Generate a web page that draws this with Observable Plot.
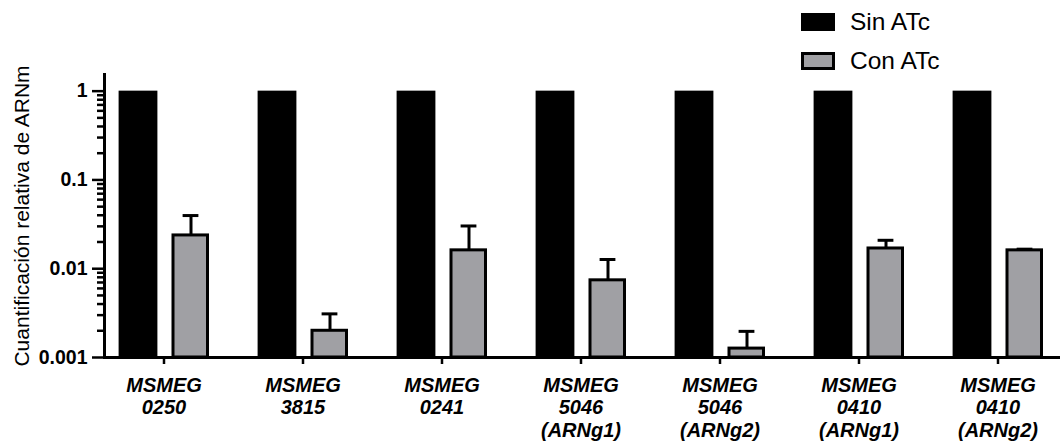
<!DOCTYPE html>
<html>
<head>
<meta charset="utf-8">
<script src="https://cdn.jsdelivr.net/npm/d3@7"></script>
<script src="https://cdn.jsdelivr.net/npm/@observablehq/plot@0.6"></script>
<style>
  html, body { margin: 0; padding: 0; background: white; }
  #wrap { position: relative; width: 1060px; height: 448px; font-family: "Liberation Sans", Arial, sans-serif; }
  .leg { position: absolute; left: 801px; display: flex; align-items: center; font-size: 24.5px; color: black; }
  .sw { width: 34px; height: 18px; box-sizing: border-box; margin-right: 15px; }
</style>
</head>
<body>
<div id="wrap">
  <div class="leg" style="top:8px"><div class="sw" style="background:#000"></div><span>Sin ATc</span></div>
  <div class="leg" style="top:47px"><div class="sw" style="background:#a0a0a4;border:3px solid #000;height:18px"></div><span>Con ATc</span></div>
</div>
<script>
const groups = ["0250", "3815", "0241", "5046g1", "5046g2", "0410g1", "0410g2"];
const tickLabels = ["MSMEG\n0250", "MSMEG\n3815", "MSMEG\n0241", "MSMEG\n5046\n(ARNg1)", "MSMEG\n5046\n(ARNg2)", "MSMEG\n0410\n(ARNg1)", "MSMEG\n0410\n(ARNg2)"];
const sinATc = [1, 1, 1, 1, 1, 1, 1];
const conATc = [0.0237, 0.0020, 0.0161, 0.0074, 0.00126, 0.0169, 0.0161];
const conUpper = [0.0397, 0.0031, 0.0303, 0.0127, 0.00197, 0.0209, 0.0166];
const yTicks = [0.001, 0.01, 0.1, 1];
const yTickLabels = ["0.001", "0.01", "0.1", "1"];
const seriesNames = ["Sin ATc", "Con ATc"];

const sinData = groups.map((g, i) => ({group: g, value: sinATc[i]}));
const conData = groups.map((g, i) => ({group: g, value: conATc[i], upper: conUpper[i]}));
const minorTicks = [];
for (const d of [0.001, 0.01, 0.1]) for (let k = 2; k <= 9; k++) minorTicks.push(+(d * k).toPrecision(3));
const minorData = minorTicks.map((v) => ({v}));

const base = 0.001;
const half = 69.6;
const W = 1060, ML = 104;

const chart = Plot.plot({
  width: W,
  height: 448,
  marginLeft: ML,
  marginRight: 0,
  marginTop: 74,
  marginBottom: 91,
  style: {fontFamily: "'Liberation Sans', Arial, sans-serif", color: "black", background: "white", overflow: "visible"},
  x: {type: "band", domain: groups, range: [163 - half, 998 + half], padding: 0},
  y: {type: "log", domain: [0.001, 1.54]},
  marks: [
    Plot.barY(sinData, {x: "group", y1: base, y2: "value", fill: "black", insetLeft: 24.6, insetRight: 75.6}),
    Plot.ruleX(conData, {x: "group", y1: "value", y2: "upper", dx: 27, stroke: "black", strokeWidth: 3}),
    Plot.tickY(conData, {x: "group", y: "upper", stroke: "black", strokeWidth: 3, insetLeft: 88.6, insetRight: 34.6}),
    Plot.barY(conData, {x: "group", y1: base, y2: "value", fill: "#a0a0a4", stroke: "black", strokeWidth: 3, insetLeft: 79, insetRight: 25.5}),
    Plot.tickY(minorData, {y: "v", stroke: "black", strokeWidth: 2.5, insetRight: W - ML - 7, dx: -7}),
    Plot.axisY({ticks: yTicks, tickSize: 12, tickPadding: 5, tickFormat: (d) => yTickLabels[yTicks.indexOf(d)],
      fontSize: 19.5, fontWeight: "bold", strokeWidth: 2.5, label: null}),
    Plot.axisY({ticks: [], tickSize: 0, label: "Cuantificación relativa de ARNm", labelAnchor: "center", labelArrow: "none",
      labelOffset: 90, fontSize: 21, fontWeight: "normal"}),
    Plot.axisX({tickSize: 7, tickPadding: 11, tickFormat: (d) => tickLabels[groups.indexOf(d)],
      fontSize: 20, fontWeight: "bold", fontStyle: "italic", lineHeight: 1.13, strokeWidth: 2.5, label: null}),
    Plot.frame({anchor: "left", strokeWidth: 3}),
    Plot.frame({anchor: "bottom", strokeWidth: 3})
  ]
});
document.getElementById("wrap").prepend(chart);
</script>
</body>
</html>
